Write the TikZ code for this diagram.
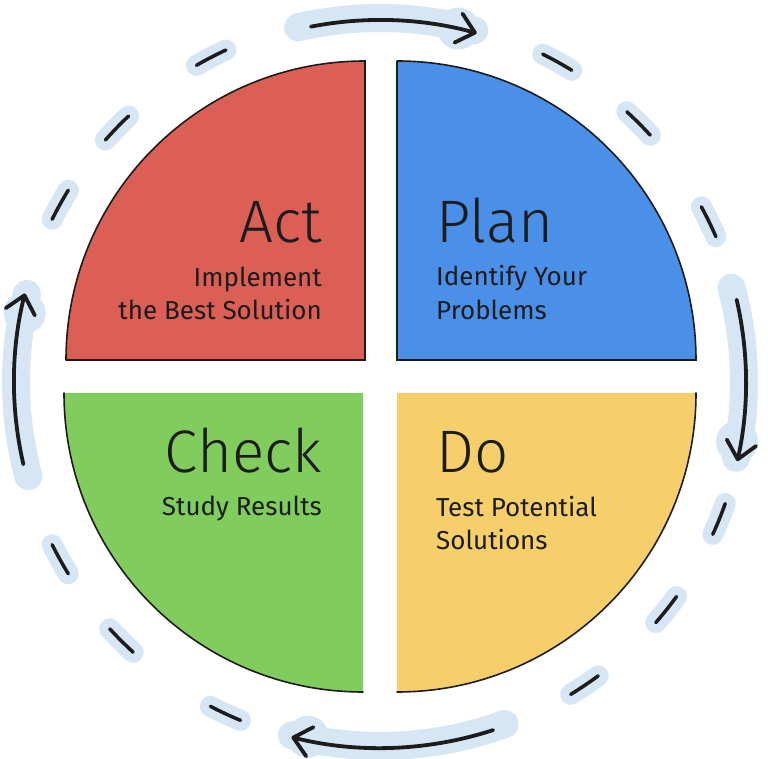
\documentclass[tikz,border=0pt]{standalone}
\usepackage{fontspec}
\setmainfont{Fira Sans}
\newfontfamily\ttlfont{Fira Sans Light}
\usetikzlibrary{arrows.meta}
\definecolor{actred}{HTML}{DC5F55}
\definecolor{planblue}{HTML}{4A8FE8}
\definecolor{checkgreen}{HTML}{80CD5D}
\definecolor{doyellow}{HTML}{F6CF6B}
\definecolor{halo}{HTML}{D6E6F5}
\definecolor{ink}{HTML}{1C1C1C}
\begin{document}
\begin{tikzpicture}[x=1pt,y=1pt,
  ttl/.style={inner sep=0pt,font=\ttlfont\fontsize{60}{60}\selectfont,text=ink},
  sub/.style={inner sep=0pt,font=\fontsize{26}{30}\selectfont,text=ink},
  edge/.style={draw=ink,line width=1.6pt,line cap=round},
  halostroke/.style={draw=halo,line width=21pt,line cap=round},
  dashstroke/.style={draw=ink,line width=3.5pt,line cap=round},
  arrowline/.style={draw=ink,line width=3.8pt,line cap=round,
    -{Straight Barb[length=17pt,width=30pt,line width=3.8pt,round]}},
  arrowhalo/.style={draw=halo,line width=28pt,line cap=round}]
\useasboundingbox (0,0) rectangle (768,758);
\fill[white] (0,0) rectangle (768,758);
\coordinate (O) at (380,376);
% arrows (halo)
\foreach \s/\e in {103/75, 15/-12, -70/-104, 195/166}{
  \draw[arrowhalo] (O) ++(\s:364) arc[start angle=\s,end angle=\e,radius=364];
}
\foreach \e in {77.5, -9.5, -101.5, 169}{
  \fill[halo] (O) ++(\e:362) circle[radius=21pt];
}
% dashes
\foreach \a in {61,45,26,-22,-38.5,-56,-115,-135,-151,151,136,117.5}{
  \draw[halostroke] (O) ++(\a+2.6:366) arc[start angle=\a+2.6,end angle=\a-2.6,radius=366];
  \draw[dashstroke] (O) ++(\a+2.6:366) arc[start angle=\a+2.6,end angle=\a-2.6,radius=366];
}
% arrows (black)
\draw[arrowline] (O) ++(101:362) arc[start angle=101,end angle=74.5,radius=362];
\draw[arrowline] (O) ++(13:366) arc[start angle=13,end angle=-12.5,radius=366];
\draw[arrowline] (O) ++(-72:366) arc[start angle=-72,end angle=-104,radius=366];
\draw[arrowline] (O) ++(193:366) arc[start angle=193,end angle=166,radius=366];
% quadrants
\fill[actred] (365,398) -- ++(0,299) arc[start angle=90,end angle=180,radius=299] -- cycle;
\fill[planblue] (397,398) -- ++(299,0) arc[start angle=0,end angle=90,radius=299] -- cycle;
\fill[checkgreen] (363,365) -- ++(-299,0) arc[start angle=180,end angle=270,radius=299] -- cycle;
\fill[doyellow] (397,365) -- ++(0,-299) arc[start angle=270,end angle=360,radius=299] -- cycle;
% sketchy outlines
\draw[edge] (66,398) -- (365,398) -- (365,697) arc[start angle=90,end angle=180,radius=299];
\draw[edge] (397,697) -- (397,398) -- (696,398) arc[start angle=0,end angle=90,radius=299];
\draw[edge] (64,365) arc[start angle=180,end angle=270,radius=299];
\draw[edge] (696,365) arc[start angle=0,end angle=-90,radius=299];
% texts
\node[ttl,anchor=base east] (actT) at (322,515) {Act};
\node[sub,anchor=base east] (actS1) at (322,471) {Implement};
\node[sub,anchor=base east] (actS2) at (322,438) {the Best Solution};
\node[ttl,anchor=base west] (planT) at (436,515) {Plan};
\node[sub,anchor=base west] (planS1) at (436,472) {Identify Your};
\node[sub,anchor=base west] (planS2) at (436,438) {Problems};
\node[ttl,anchor=base east] (checkT) at (322,285) {Check};
\node[sub,anchor=base east] (checkS1) at (322,242) {Study Results};
\node[ttl,anchor=base west] (doT) at (436,285) {Do};
\node[sub,anchor=base west] (doS1) at (436,241) {Test Potential};
\node[sub,anchor=base west] (doS2) at (436,208) {Solutions};
\end{tikzpicture}
\end{document}
